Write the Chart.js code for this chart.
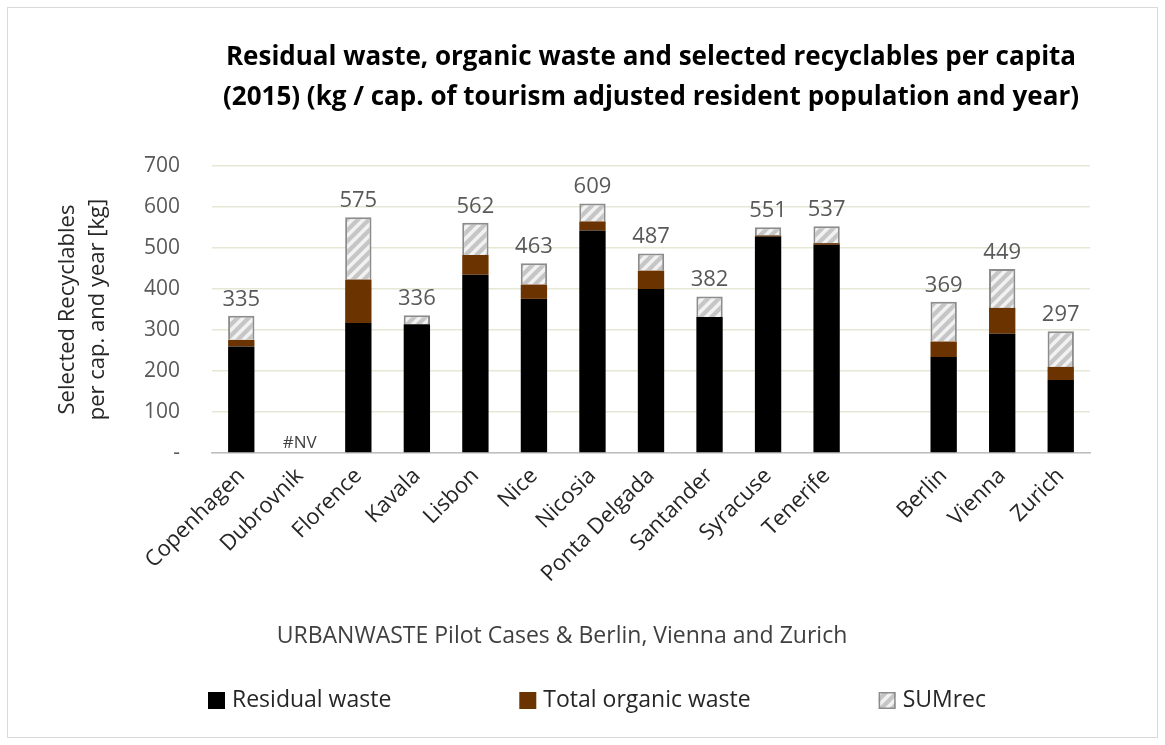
<!DOCTYPE html>
<html>
<head>
<meta charset="utf-8">
<script src="https://cdn.jsdelivr.net/npm/chart.js@4.4.1/dist/chart.umd.min.js"></script>
<style>
  html, body { margin: 0; padding: 0; background: #fff; }
  #wrap { width: 1165px; height: 745px; }
</style>
</head>
<body>
<div id="wrap"><canvas id="myChart" width="1165" height="745"></canvas></div>
<script>
// Dados do gráfico
const cities = ['Copenhagen', 'Dubrovnik', 'Florence', 'Kavala', 'Lisbon', 'Nice', 'Nicosia',
    'Ponta Delgada', 'Santander', 'Syracuse', 'Tenerife', '', 'Berlin', 'Vienna', 'Zurich'];
const residualWaste = [260, null, 317, 314, 435, 376, 543, 400, 332, 528, 508, null, 234, 291, 178];
const organicWaste = [16, null, 106, 0, 48, 35, 22, 45, 0, 3, 4, null, 38, 63, 32];
const sumRec = [59, null, 152, 22, 79, 52, 44, 42, 50, 20, 41, null, 97, 95, 87];
const totalLabels = ['335', '#NV', '575', '336', '562', '463', '609', '487', '382', '551', '537', '', '369', '449', '297'];
const yTicks = [0, 100, 200, 300, 400, 500, 600, 700];

const FONT = "'Open Sans', 'DejaVu Sans', sans-serif";
const GREY = '#595959';

// padrão tracejado para SUMrec
function hatch() {
    const c = document.createElement('canvas');
    c.width = 11; c.height = 11;
    const g = c.getContext('2d');
    g.fillStyle = '#c6c6c6';
    g.fillRect(0, 0, 11, 11);
    g.strokeStyle = '#f2f2f2';
    g.lineWidth = 3.5;
    g.beginPath();
    g.moveTo(-2, 13); g.lineTo(13, -2);
    g.moveTo(-7, 7); g.lineTo(7, -7);
    g.moveTo(4, 18); g.lineTo(18, 4);
    g.stroke();
    return g.createPattern(c, 'repeat');
}
const recPattern = hatch();

const data = {
    labels: cities,
    datasets: [{
        label: 'Residual waste',
        data: residualWaste,
        backgroundColor: '#000000',
        borderColor: '#000000',
        borderWidth: 0
    }, {
        label: 'Total organic waste',
        data: organicWaste,
        backgroundColor: '#6b3300',
        borderColor: '#6b3300',
        borderWidth: 0
    }, {
        label: 'SUMrec',
        data: sumRec,
        backgroundColor: recPattern,
        borderColor: '#8c8c8c',
        borderWidth: 2
    }]
};

// rótulos de total, título do eixo x, legenda e moldura
const extras = {
    id: 'extras',
    beforeDraw(chart) {
        const ctx = chart.ctx;
        ctx.save();
        ctx.strokeStyle = '#d9d9d9';
        ctx.lineWidth = 1;
        ctx.strokeRect(7.5, 7.5, 1150, 730);
        ctx.restore();
    },
    afterDatasetsDraw(chart) {
        const ctx = chart.ctx;
        const y = chart.scales.y;
        const x = chart.scales.x;
        ctx.save();
        ctx.textAlign = 'center';
        ctx.textBaseline = 'alphabetic';
        totalLabels.forEach((t, i) => {
            if (!t) return;
            const sum = (residualWaste[i] || 0) + (organicWaste[i] || 0) + (sumRec[i] || 0);
            const px = x.getPixelForValue(i);
            const py = y.getPixelForValue(sum);
            if (t === '#NV') {
                ctx.font = '17px ' + FONT;
                ctx.fillStyle = '#404040';
                ctx.fillText(t, px, py - 5);
            } else {
                ctx.font = '22px ' + FONT;
                ctx.fillStyle = GREY;
                ctx.fillText(t, px, py - 10);
            }
        });
        ctx.restore();
    },
    afterDraw(chart) {
        const ctx = chart.ctx;
        ctx.save();
        ctx.font = '23px ' + FONT;
        ctx.fillStyle = '#404040';
        ctx.textAlign = 'center';
        ctx.textBaseline = 'middle';
        ctx.fillText('URBANWASTE Pilot Cases & Berlin, Vienna and Zurich', 562, 636);

        // legenda
        let lx = 208;
        const ly = 700;
        ctx.textAlign = 'left';
        ctx.font = '23px ' + FONT;
        chart.data.datasets.forEach(ds => {
            ctx.fillStyle = ds.backgroundColor;
            ctx.fillRect(lx, ly - 8, 17, 17);
            if (ds.borderWidth) {
                ctx.strokeStyle = ds.borderColor;
                ctx.lineWidth = 1.5;
                ctx.strokeRect(lx + 0.75, ly - 7.25, 15.5, 15.5);
            }
            ctx.fillStyle = '#262626';
            ctx.fillText(ds.label, lx + 24, ly);
            lx += 24 + ctx.measureText(ds.label).width + 128;
        });
        ctx.restore();
    }
};

const options = {
    responsive: false,
    animation: false,
    layout: {
        padding: { top: 18, left: 53, right: 75, bottom: 0 }
    },
    plugins: {
        legend: { display: false },
        tooltip: { enabled: false },
        title: {
            display: true,
            fullSize: false,
            text: ['Residual waste, organic waste and selected recyclables per capita',
                '(2015) (kg / cap. of tourism adjusted resident population and year)'],
            color: '#000000',
            font: { family: FONT, size: 26, weight: 'bold', lineHeight: 1.54 },
            padding: { top: 20, bottom: 48 }
        }
    },
    datasets: {
        bar: { categoryPercentage: 1, barPercentage: 0.45 }
    },
    scales: {
        x: {
            stacked: true,
            grid: { display: false, drawTicks: false },
            border: { display: true, color: '#bfbfbf', width: 1.5 },
            ticks: {
                autoSkip: false,
                maxRotation: 45,
                minRotation: 45,
                padding: 10,
                color: '#262626',
                font: { family: FONT, size: 22 }
            },
            afterFit: s => { s.height = 292; }
        },
        y: {
            stacked: true,
            min: 0,
            max: 700,
            afterBuildTicks: s => { s.ticks = yTicks.map(v => ({ value: v })); },
            grid: { color: '#e6e8d6', lineWidth: 1.5, drawTicks: false },
            border: { display: false },
            ticks: {
                padding: 32,
                color: GREY,
                font: { family: FONT, size: 21 },
                callback: v => v === 0 ? '-' : v
            },
            title: {
                display: true,
                text: ['Selected Recyclables', 'per cap. and year [kg]'],
                color: '#262626',
                font: { family: FONT, size: 22, lineHeight: 1.36 },
                padding: { top: 0, bottom: 0 }
            },
            afterFit: s => { s.width = 159; }
        }
    }
};

const ctx = document.getElementById('myChart').getContext('2d');
const myChart = new Chart(ctx, {
    type: 'bar',
    data: data,
    options: options,
    plugins: [extras]
});
</script>
</body>
</html>
